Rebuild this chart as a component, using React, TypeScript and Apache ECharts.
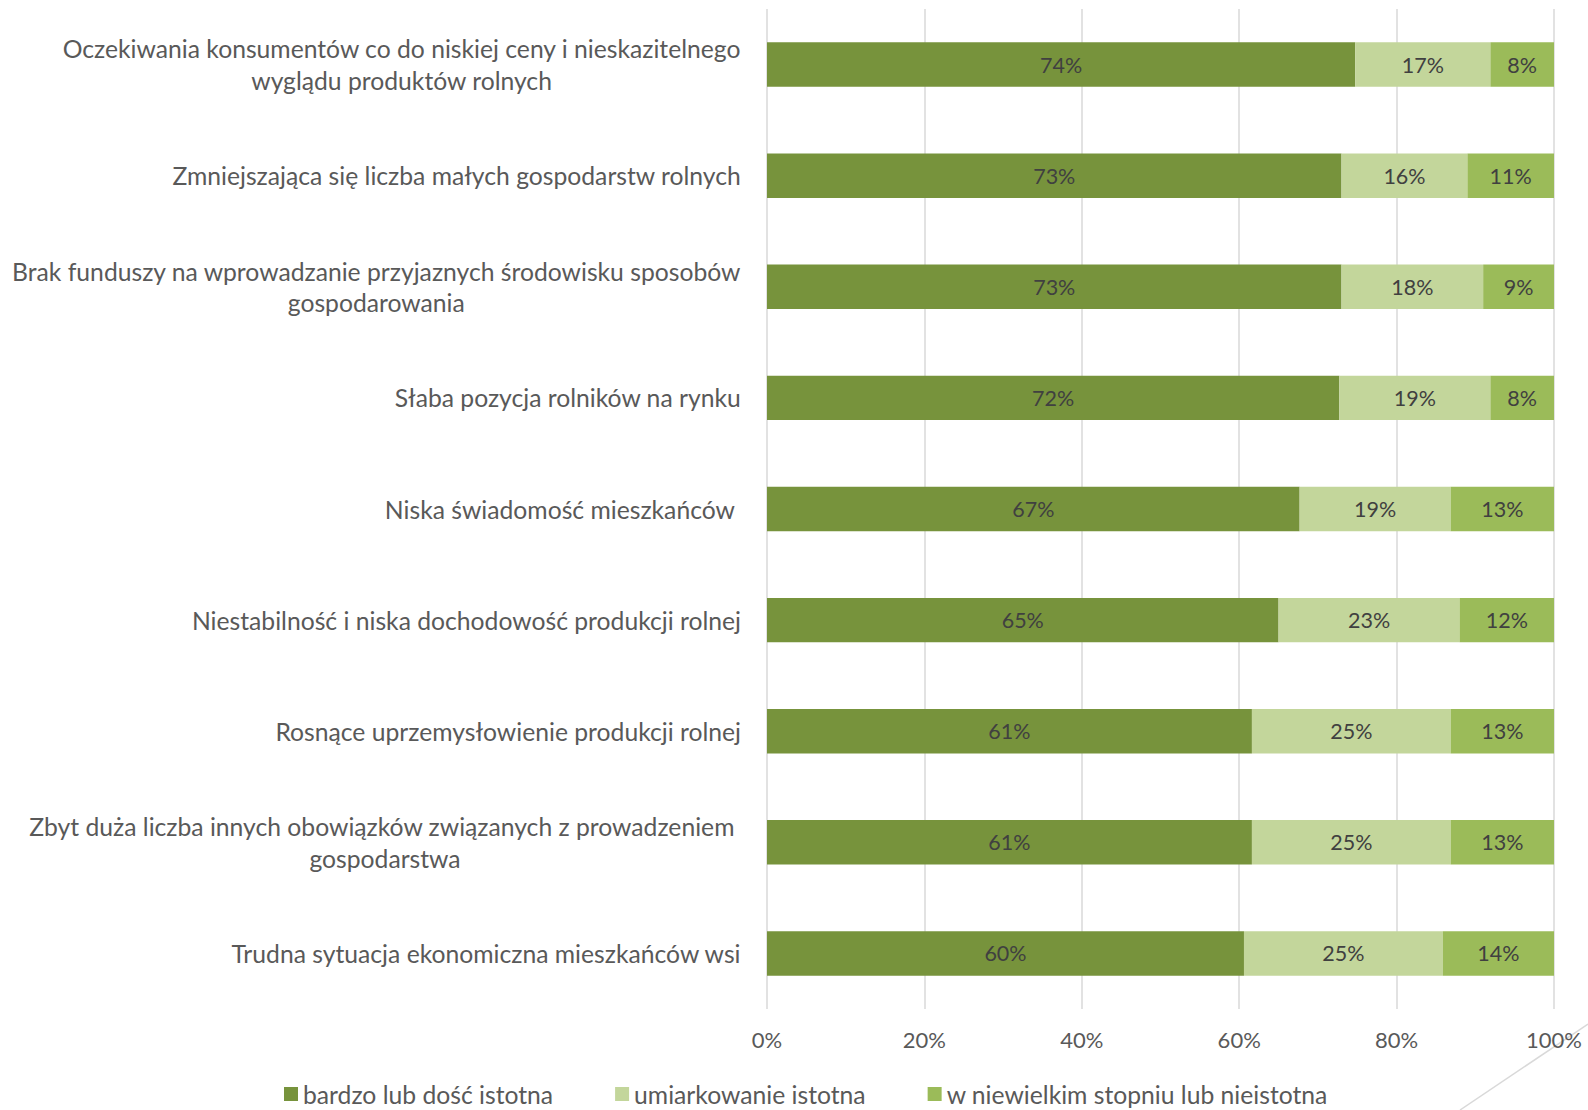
import React, { useEffect, useRef } from "react";
import * as echarts from "echarts";

const categories = [
  "Oczekiwania konsumentów co do niskiej ceny i nieskazitelnego\nwyglądu produktów rolnych",
  "Zmniejszająca się liczba małych gospodarstw rolnych",
  "Brak funduszy na wprowadzanie przyjaznych środowisku sposobów\ngospodarowania",
  "Słaba pozycja rolników na rynku",
  "Niska świadomość mieszkańców ",
  "Niestabilność i niska dochodowość produkcji rolnej",
  "Rosnące uprzemysłowienie produkcji rolnej",
  "Zbyt duża liczba innych obowiązków związanych z prowadzeniem \ngospodarstwa",
  "Trudna sytuacja ekonomiczna mieszkańców wsi",
];

const seriesNames = [
  "bardzo lub dość istotna",
  "umiarkowanie istotna",
  "w niewielkim stopniu lub nieistotna",
];

const bardzo = [74, 73, 73, 72, 67, 65, 61, 61, 60];
const umiarkowanie = [17, 16, 18, 19, 19, 23, 25, 25, 25];
const niewielki = [8, 11, 9, 8, 13, 12, 13, 13, 14];

const xTicks = [0, 20, 40, 60, 80, 100];

const colors = ["#77933C", "#C3D69B", "#9BBB59"];

const FONT = "Lato";

export default function App() {
  const ref = useRef<HTMLDivElement>(null);

  useEffect(() => {
    if (!ref.current) return;
    const chart = echarts.init(ref.current, null, { renderer: "svg" });
    const raw = [bardzo, umiarkowanie, niewielki];
    const totals = categories.map((_, i) => raw.reduce((s, arr) => s + arr[i], 0));

    const series = raw.map((arr, si) => ({
      name: seriesNames[si],
      type: "bar",
      stack: "total",
      barWidth: "40%",
      itemStyle: { color: colors[si] },
      label: {
        show: true,
        position: "inside",
        color: "#404040",
        fontFamily: FONT,
        fontSize: 21.5,
        formatter: (p: any) => `${raw[si][p.dataIndex]}%`,
      },
      data: arr.map((v, i) => (v / totals[i]) * 100),
    }));

    chart.setOption({
      animation: false,
      textStyle: { fontFamily: FONT },
      grid: { left: 767, right: 34, top: 9, bottom: 101, containLabel: false },
      xAxis: {
        type: "value",
        min: xTicks[0],
        max: xTicks[xTicks.length - 1],
        interval: 20,
        axisLine: { show: false },
        axisTick: { show: false },
        splitLine: { show: true, lineStyle: { color: "#D9D9D9", width: 1.5 } },
        axisLabel: {
          color: "#595959",
          fontFamily: FONT,
          fontSize: 22,
          margin: 19,
          formatter: (v: number) => `${v}%`,
        },
      },
      yAxis: {
        type: "category",
        inverse: true,
        data: categories,
        axisLine: { show: false },
        axisTick: { show: false },
        axisLabel: {
          margin: 26,
          align: "right",
          formatter: (v: string) =>
            v
              .split("\n")
              .map((l) => `{c|${l}}`)
              .join("\n"),
          rich: {
            c: {
              align: "center",
              color: "#595959",
              fontFamily: FONT,
              fontSize: 24.7,
              lineHeight: 31.5,
            },
          },
        },
      },
      legend: {
        left: 284,
        top: 1080,
        padding: 0,
        itemWidth: 14,
        itemHeight: 14,
        itemGap: 62,
        icon: "rect",
        textStyle: { color: "#595959", fontFamily: FONT, fontSize: 24.7, lineHeight: 28 },
        data: seriesNames,
      },
      graphic: [
        {
          type: "line",
          shape: { x1: 1460, y1: 1110, x2: 1588, y2: 1024 },
          style: { stroke: "#D9D9D9", lineWidth: 1.5 },
          silent: true,
        },
      ],
      series,
    });

    return () => chart.dispose();
  }, []);

  return (
    <div
      ref={ref}
      style={{ position: "absolute", left: 0, top: 0, width: 1588, height: 1110, background: "#fff" }}
    />
  );
}
